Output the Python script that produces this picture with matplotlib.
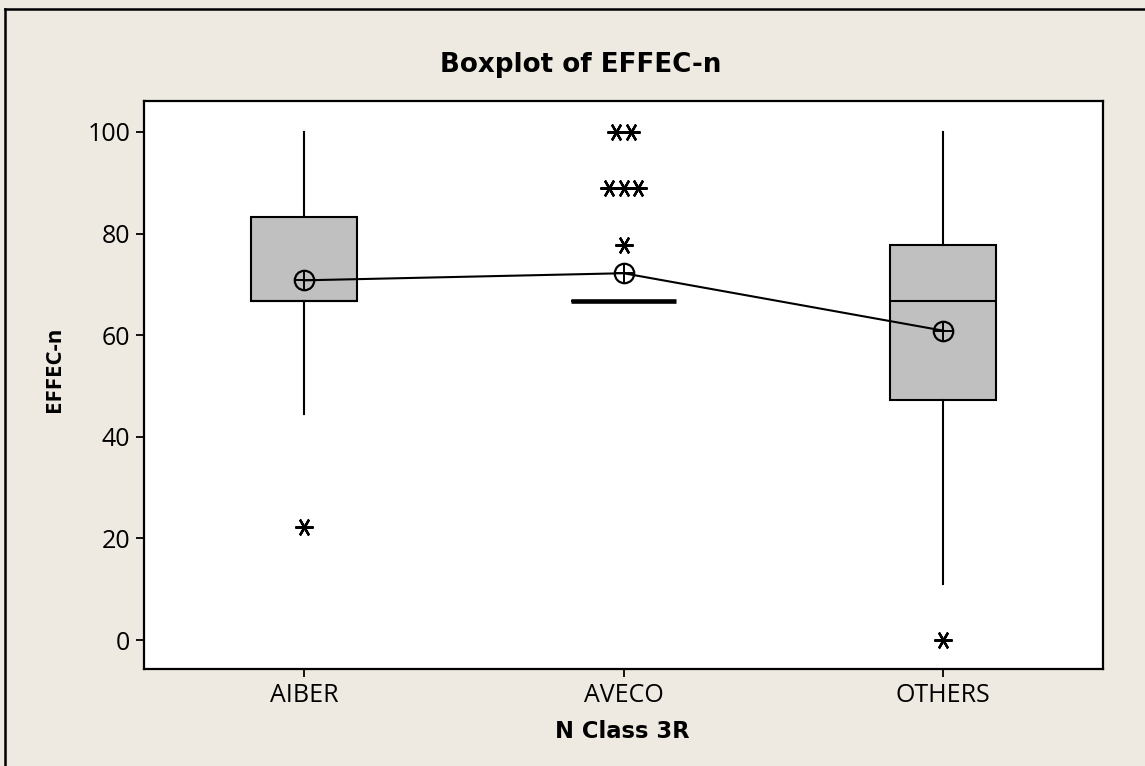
import matplotlib
matplotlib.use('Agg')
import matplotlib.pyplot as plt
from matplotlib.lines import Line2D
from collections import Counter

# ---- data ----
categories = ['AIBER', 'AVECO', 'OTHERS']
q1 = [66.7, 66.7, 47.2]
medians = [66.7, 66.7, 66.7]
q3 = [83.3, 66.7, 77.8]
whisker_low = [44.4, 66.7, 11.1]
whisker_high = [100.0, 66.7, 100.0]
means = [70.8, 72.2, 60.9]
outliers = [[22.2], [77.8, 88.9, 88.9, 88.9, 100.0, 100.0], [0.0]]
yticks = [0, 20, 40, 60, 80, 100]

title = 'Boxplot of EFFEC-n'
xlabel = 'N Class 3R'
ylabel = 'EFFEC-n'

# ---- style ----
BG = '#EEEAE1'
BOXFILL = '#C0C0C0'
FONT = ['Open Sans', 'DejaVu Sans']
BOLD = ['DejaVu Sans']
plt.rcParams['font.family'] = FONT

W, H = 1145, 766
fig = plt.figure(figsize=(W / 100, H / 100), dpi=100, facecolor=BG)
ax = fig.add_axes([144 / W, 1 - 669 / H, (1103 - 144) / W, (669 - 101) / H])
ax.set_facecolor('white')

LW = 1.5
positions = list(range(1, len(categories) + 1))
for i, pos in enumerate(positions):
    stat = dict(med=medians[i], q1=q1[i], q3=q3[i],
                whislo=whisker_low[i], whishi=whisker_high[i],
                fliers=[], label=categories[i])
    flat = q1[i] == q3[i]
    ax.bxp([stat], positions=[pos], widths=0.33, patch_artist=True,
           showcaps=False, showfliers=False,
           boxprops=dict(facecolor=BOXFILL, edgecolor='black', linewidth=LW),
           medianprops=dict(color='black', linewidth=3.3 if flat else LW),
           whiskerprops=dict(color='black', linewidth=LW))

# outliers (asterisks), duplicates spread side by side
for i, pos in enumerate(positions):
    counts = Counter(outliers[i])
    for val, n in counts.items():
        for k in range(n):
            off = (k - (n - 1) / 2) * 0.046
            ax.plot(pos + off, val, linestyle='none', marker=(6, 2, 90),
                    markersize=13, markeredgewidth=1.7, color='black', zorder=5)

# mean connect line and symbols
ax.plot(positions, means, color='black', linewidth=LW, zorder=4)
ax.plot(positions, means, linestyle='none', marker='o', markersize=14,
        markerfacecolor='none', markeredgecolor='black', markeredgewidth=1.6, zorder=6)
ax.plot(positions, means, linestyle='none', marker='+', markersize=14,
        markeredgecolor='black', markeredgewidth=1.4, zorder=6)

ax.set_xlim(0.5, 3.5)
ax.set_ylim(-5.7, 106.1)
ax.set_xticks(positions)
ax.set_xticklabels(categories)
ax.set_yticks(yticks)
ax.set_yticklabels([str(t) for t in yticks])
ax.tick_params(axis='both', direction='out', length=6, width=1.3, labelsize=18,
               colors='black')
ax.tick_params(axis='y', pad=4)
ax.tick_params(axis='x', pad=4)
for s in ax.spines.values():
    s.set_linewidth(1.6)
    s.set_color('black')

fig.text(581 / W, 1 - 65 / H, title, ha='center', va='center',
         fontsize=18.8, fontweight='bold', family=BOLD)
fig.text(622 / W, 1 - 731 / H, xlabel, ha='center', va='center',
         fontsize=16.3, fontweight='bold', family=BOLD)
fig.text(54 / W, 1 - 369 / H, ylabel, ha='center', va='center',
         rotation=90, fontsize=16, fontweight='bold', family=FONT)

# figure frame (left and top edges)
fig.add_artist(Line2D([5 / W, 5 / W], [0, 1 - 9 / H], transform=fig.transFigure,
                      color='black', linewidth=1.8))
fig.add_artist(Line2D([5 / W, 1], [1 - 9 / H, 1 - 9 / H], transform=fig.transFigure,
                      color='black', linewidth=1.8))

fig.savefig('out.png', dpi=100, facecolor=BG)
